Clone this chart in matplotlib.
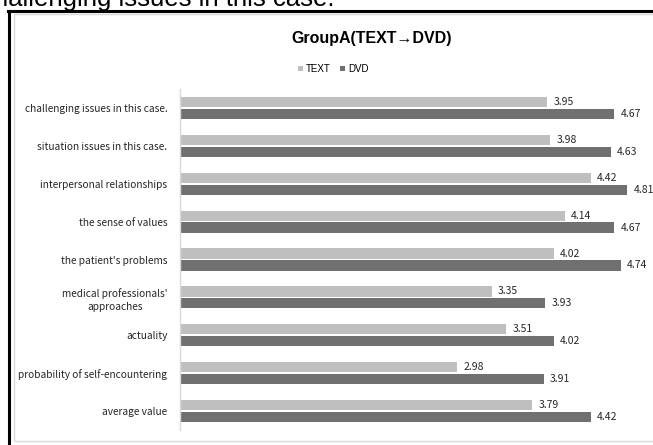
import numpy as np
import matplotlib
matplotlib.use("Agg")
import matplotlib.pyplot as plt
from matplotlib.patches import Rectangle
from matplotlib.lines import Line2D

W, H = 653, 445

categories = [
    "challenging issues in this case.",
    "situation issues in this case.",
    "interpersonal relationships",
    "the sense of values",
    "the patient's problems",
    "medical professionals'\napproaches",
    "actuality",
    "probability of self-encountering",
    "average value",
]
text_vals = [3.95, 3.98, 4.42, 4.14, 4.02, 3.35, 3.51, 2.98, 3.79]
dvd_vals = [4.67, 4.63, 4.81, 4.67, 4.74, 3.93, 4.02, 3.91, 4.42]
series_names = ["TEXT", "DVD"]

TEXT_COLOR = "#bfbfbf"
DVD_COLOR = "#707070"
LABEL_FONT = ["Noto Sans CJK JP", "DejaVu Sans"]


def px(x0, y0, w, h):
    # pixel box (top-left origin) -> figure fraction box
    return [x0 / W, 1 - (y0 + h) / H, w / W, h / H]


fig = plt.figure(figsize=(W / 100, H / 100), dpi=100)

# caption line from the page above, cut off by the crop
fig.text(-19 / W, 1 - 6 / H, "challenging issues in this case.", family="Liberation Sans",
         fontsize=18.5, color="black", ha="left", va="baseline")

# black frame around the pasted chart
fig.add_artist(Line2D([8 / W, 1.0], [1 - 11 / H, 1 - 11 / H], color="black", lw=2.2,
                      transform=fig.transFigure))
fig.add_artist(Line2D([9 / W, 9 / W], [1 - 11 / H, 0], color="black", lw=2.2,
                      transform=fig.transFigure))
# chart area border
fig.add_artist(Rectangle((13.5 / W, 1 - 441 / H), 760 / W, 427 / H, fill=False,
                         edgecolor="#d9d9d9", lw=1.0, transform=fig.transFigure))

fig.text(372 / W, 1 - 39 / H, "GroupA(TEXT\u2192DVD)", family="Liberation Sans",
         fontweight="bold", fontsize=11.5, ha="center", va="center")

ax = fig.add_axes(px(180, 89, 465, 341))
y = np.arange(len(categories))
off = 0.158
hgt = 0.27
b1 = ax.barh(y - off, text_vals, height=hgt, color=TEXT_COLOR, label=series_names[0])
b2 = ax.barh(y + off, dvd_vals, height=hgt, color=DVD_COLOR, label=series_names[1])

for bars, vals in ((b1, text_vals), (b2, dvd_vals)):
    for bar, v in zip(bars, vals):
        ax.text(v + 0.065, bar.get_y() + bar.get_height() / 2, f"{v:.2f}",
                family=LABEL_FONT, fontsize=7.5, color="#262626", ha="left", va="center")

ax.set_xlim(0, 5)
ax.set_ylim(len(categories) - 0.5, -0.5)
ax.set_xticks([])
ax.set_yticks(y)
ax.set_yticklabels(categories, family=LABEL_FONT, fontsize=7.3, color="#262626",
                   multialignment="center", linespacing=1.45)
ax.tick_params(axis="y", length=0, pad=9)
for side in ("top", "right", "bottom"):
    ax.spines[side].set_visible(False)
ax.spines["left"].set_color("#d9d9d9")
ax.spines["left"].set_linewidth(1.0)

leg = fig.legend(handles=[b1, b2], labels=series_names, loc="center",
                 bbox_to_anchor=(333 / W, 1 - 69 / H), ncol=2, frameon=False,
                 prop={"family": "Liberation Sans", "size": 7},
                 handlelength=0.55, handleheight=0.55, handletextpad=0.3, columnspacing=0.9)

fig.savefig("out.png", dpi=100)
